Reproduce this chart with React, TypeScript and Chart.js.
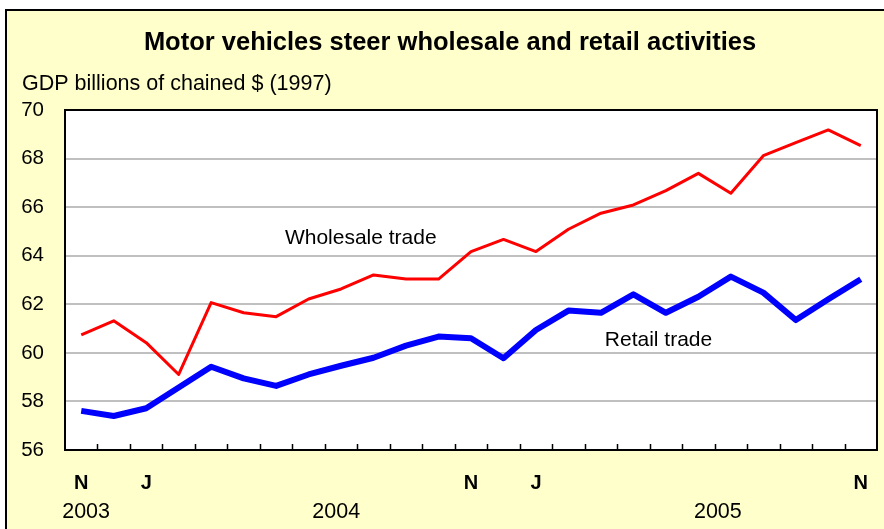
import React, { useEffect, useRef } from "react";
import { Chart, registerables } from "chart.js";

Chart.register(...registerables);

const months = ["N", "D", "J", "F", "M", "A", "M", "J", "J", "A", "S", "O", "N", "D", "J", "F", "M", "A", "M", "J", "J", "A", "S", "O", "N"];
const shownMonthIdx = [0, 2, 12, 14, 24];
const years = ["2003", "2004", "2005"];
const yearPos = [0.15, 7.85, 19.6];
const wholesale = [60.74, 61.32, 60.42, 59.11, 62.07, 61.65, 61.49, 62.22, 62.63, 63.21, 63.04, 63.04, 64.17, 64.67, 64.17, 65.09, 65.75, 66.09, 66.68, 67.39, 66.57, 68.12, 68.66, 69.18, 68.53];
const retail = [57.61, 57.4, 57.72, 58.57, 59.43, 58.95, 58.64, 59.11, 59.47, 59.8, 60.3, 60.67, 60.6, 59.78, 60.94, 61.74, 61.65, 62.41, 61.65, 62.31, 63.14, 62.48, 61.35, 62.21, 63.03];
const seriesNames = ["Wholesale trade", "Retail trade"];
const labelAnchors = [
  { idx: 6.27, val: 64.73 },
  { idx: 16.12, val: 60.53 },
];
const TITLE = "Motor vehicles steer wholesale and retail activities";
const Y_TITLE = "GDP billions of chained $ (1997)";
const FONT = "'Liberation Sans', Arial, sans-serif";

export default function App() {
  const ref = useRef<HTMLCanvasElement>(null);
  useEffect(() => {
    const canvas = ref.current!;
    const decor = {
      id: "decor",
      beforeDraw(chart: any) {
        const ctx = chart.ctx;
        const { left, top, right, bottom } = chart.chartArea;
        ctx.save();
        ctx.fillStyle = "#ffffff";
        ctx.fillRect(0, 0, chart.width, chart.height);
        ctx.fillStyle = "#FFFFCC";
        ctx.fillRect(6, 10, chart.width - 6, chart.height - 10);
        ctx.fillStyle = "#000000";
        ctx.fillRect(5, 9, chart.width - 5, 2);
        ctx.fillRect(5, 9, 2, chart.height - 9);
        ctx.fillStyle = "#ffffff";
        ctx.fillRect(left, top, right - left, bottom - top);
        ctx.restore();
      },
      afterDraw(chart: any) {
        const ctx = chart.ctx;
        const { left, top, right, bottom } = chart.chartArea;
        const xs = chart.scales.x;
        const ys = chart.scales.y;
        ctx.save();
        // plot border
        ctx.strokeStyle = "#000";
        ctx.lineWidth = 2;
        ctx.strokeRect(left, top, right - left, bottom - top);
        // tick marks
        ctx.lineWidth = 1.5;
        ctx.beginPath();
        for (let i = 1; i < months.length; i++) {
          const x = Math.round((xs.getPixelForValue(i - 1) + xs.getPixelForValue(i)) / 2) + 0.5;
          ctx.moveTo(x, bottom);
          ctx.lineTo(x, bottom - 6);
        }
        ctx.stroke();
        ctx.fillStyle = "#000";
        ctx.textAlign = "center";
        ctx.textBaseline = "middle";
        // month labels
        ctx.font = `bold 20px ${FONT}`;
        shownMonthIdx.forEach((i) => {
          ctx.fillText(months[i], xs.getPixelForValue(i), 483);
        });
        // years
        ctx.font = `21.5px ${FONT}`;
        years.forEach((y, k) => {
          ctx.fillText(y, xs.getPixelForValue(yearPos[k]), 512);
        });
        // title
        ctx.font = `bold 25.5px ${FONT}`;
        ctx.fillText(TITLE, 450, 43);
        ctx.textAlign = "left";
        ctx.font = `21.5px ${FONT}`;
        ctx.fillText(Y_TITLE, 22, 84);
        // series labels
        ctx.font = `21px ${FONT}`;
        seriesNames.forEach((n, k) => {
          ctx.fillText(n, xs.getPixelForValue(labelAnchors[k].idx), ys.getPixelForValue(labelAnchors[k].val));
        });
        ctx.restore();
      },
    };
    const chart = new Chart(canvas, {
      type: "line",
      data: {
        labels: months,
        datasets: [
          { label: seriesNames[0], data: wholesale, borderColor: "#FF0000", borderWidth: 3, pointRadius: 0, tension: 0, borderJoinStyle: "round" },
          { label: seriesNames[1], data: retail, borderColor: "#0000FF", borderWidth: 6, pointRadius: 0, tension: 0, borderJoinStyle: "round" },
        ],
      },
      options: {
        responsive: false,
        animation: false,
        devicePixelRatio: 1,
        layout: { padding: { left: 0, right: 7, top: 110, bottom: 79 } },
        plugins: { legend: { display: false }, tooltip: { enabled: false }, title: { display: false } },
        scales: {
          x: { type: "category", offset: true, display: false },
          y: {
            min: 56,
            max: 70,
            ticks: { stepSize: 2, color: "#000", font: { family: FONT, size: 20.5 }, padding: 21 },
            grid: {
              drawTicks: false,
              lineWidth: 2,
              color: (c: any) => (c.tick && (c.tick.value === 56 || c.tick.value === 70) ? "rgba(0,0,0,0)" : "#C0C0C0"),
            },
            border: { display: false },
            afterFit: (s: any) => {
              s.width = 65;
            },
          },
        },
      },
      plugins: [decor],
    } as any);
    return () => chart.destroy();
  }, []);
  return (
    <div style={{ position: "fixed", left: 0, top: 0, width: 884, height: 529 }}>
      <canvas ref={ref} width={884} height={529} style={{ display: "block" }} />
    </div>
  );
}
